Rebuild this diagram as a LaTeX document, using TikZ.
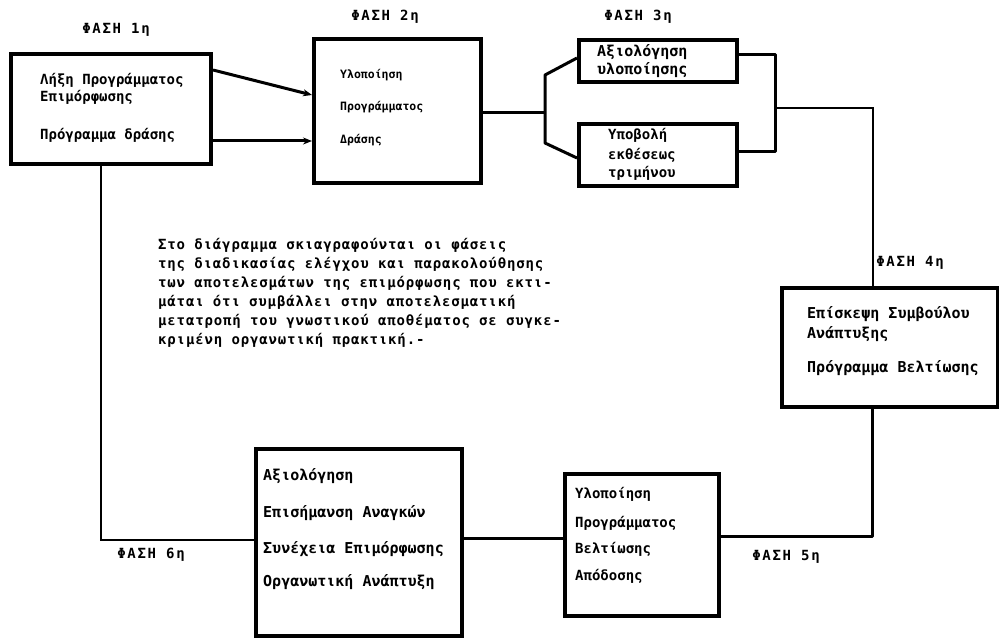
\documentclass[tikz,border=0pt]{standalone}
\usepackage{fontspec}
\setmonofont{DejaVu Sans Mono}
\usetikzlibrary{arrows.meta}
\tikzset{
  x=1pt, y=-1pt,
  box/.style={draw, line width=4pt, rectangle, anchor=north west, inner sep=0pt},
  conn/.style={line width=3pt, line join=round},
  thin conn/.style={line width=2pt},
  arr/.style={conn, -{Stealth[length=9pt,width=7pt]}},
  txt/.style={anchor=base west, inner sep=0pt, font=\ttfamily\bfseries\fontsize{14}{16}\selectfont},
  small txt/.style={txt, font=\ttfamily\bfseries\fontsize{11.5}{14}\selectfont},
  big txt/.style={txt, font=\ttfamily\bfseries\fontsize{15}{17}\selectfont},
  phase/.style={anchor=center, inner sep=0pt, font=\ttfamily\bfseries\fontsize{14}{16}\selectfont\addfontfeature{LetterSpace=12}},
  para/.style={anchor=north west, inner sep=0pt, align=left, font=\ttfamily\bfseries\fontsize{14}{19}\selectfont\addfontfeature{LetterSpace=6}}
}
\begin{document}
\begin{tikzpicture}
\useasboundingbox (0,0) rectangle (999,639);

% boxes
\node[box, minimum width=200pt, minimum height=110pt] (b1) at (9,52) {};
\node[box, minimum width=167pt, minimum height=144pt] (b2) at (312,37) {};
\node[box, minimum width=158pt, minimum height=42pt] (b3a) at (577,38) {};
\node[box, minimum width=158pt, minimum height=62pt] (b3b) at (577,122) {};
\node[box, minimum width=216pt, minimum height=119pt] (b4) at (780,286) {};
\node[box, minimum width=154pt, minimum height=142pt] (b5) at (563,472) {};
\node[box, minimum width=206pt, minimum height=187pt] (b6) at (254,447) {};

% phase labels
\node[phase] (p1) at (116,30) {ΦΑΣΗ 1η};
\node[phase] (p2) at (385,17) {ΦΑΣΗ 2η};
\node[phase] (p3) at (638,17) {ΦΑΣΗ 3η};
\node[phase] (p4) at (910,263) {ΦΑΣΗ 4η};
\node[phase] (p5) at (786,557) {ΦΑΣΗ 5η};
\node[phase] (p6) at (151,555) {ΦΑΣΗ 6η};

% box texts
\node[txt] (t1a) at (40,85) {Λήξη Προγράμματος};
\node[txt] (t1b) at (40,102) {Επιμόρφωσης};
\node[txt] (t1c) at (40,140) {Πρόγραμμα δράσης};

\node[small txt] (t2a) at (340,79) {Υλοποίηση};
\node[small txt] (t2b) at (340,111) {Προγράμματος};
\node[small txt] (t2c) at (340,144) {Δράσης};

\node[big txt] (t3a) at (597,57) {Αξιολόγηση};
\node[big txt] (t3b) at (597,75) {υλοποίησης};

\node[txt] (t3c) at (608,140) {Υποβολή};
\node[txt] (t3d) at (608,160) {εκθέσεως};
\node[txt] (t3e) at (608,178) {τριμήνου};

\node[big txt] (t4a) at (807,318) {Επίσκεψη Συμβούλου};
\node[big txt] (t4b) at (807,338) {Ανάπτυξης};
\node[big txt] (t4c) at (807,372) {Πρόγραμμα Βελτίωσης};

\node[txt] (t5a) at (575,498) {Υλοποίηση};
\node[txt] (t5b) at (575,527) {Προγράμματος};
\node[txt] (t5c) at (575,553) {Βελτίωσης};
\node[txt] (t5d) at (575,580) {Απόδοσης};

\node[big txt] (t6a) at (263,480) {Αξιολόγηση};
\node[big txt] (t6b) at (263,517) {Επισήμανση Αναγκών};
\node[big txt] (t6c) at (263,553) {Συνέχεια Επιμόρφωσης};
\node[big txt] (t6d) at (263,586) {Οργανωτική Ανάπτυξη};

% paragraph
\node[para] (note) at (158,238) {Στο διάγραμμα σκιαγραφούνται οι φάσεις\\
της διαδικασίας ελέγχου και παρακολούθησης\\
των αποτελεσμάτων της επιμόρφωσης που εκτι-\\
μάται ότι συμβάλλει στην αποτελεσματική\\
μετατροπή του γνωστικού αποθέματος σε συγκε-\\
κριμένη οργανωτική πρακτική.-};

% connectors phase 1 -> 2
\coordinate (s1) at ([yshift=-18pt]b1.north east);
\coordinate (e1) at ([yshift=-58pt]b2.north west);
\coordinate (s2) at ([yshift=25pt]b1.south east);
\draw[arr] (s1) -- (e1);
\draw[arr] (s2) -- (b2.west |- s2);

% phase 2 -> 3 fork
\coordinate (fork) at (545,113);
\coordinate (forkTop) at (545,75);
\coordinate (forkBot) at (545,143);
\draw[conn] (b2.east |- fork) -- (fork);
\draw[conn] ([yshift=-20pt]b3a.north west) -- (forkTop) -- (forkBot) -- ([yshift=-36pt]b3b.north west);

% phase 3 join -> 4
\coordinate (joinTop) at (775,55);
\coordinate (joinBot) at (775,152);
\coordinate (joinMid) at (775,108);
\coordinate (turn4) at (873,108);
\draw[conn] (b3a.east |- joinTop) -- (joinTop) -- (joinBot) -- (b3b.east |- joinBot);
\draw[thin conn] (joinMid) -- (turn4) -- (turn4 |- b4.north);

% phase 4 -> 5
\coordinate (turn5) at (872,536);
\draw[conn] (b4.south -| turn5) -- (turn5) -- (b5.east |- turn5);

% phase 5 -> 6
\coordinate (c56) at (563,538);
\draw[conn] (b5.west |- c56) -- (b6.east |- c56);

% phase 6 -> 1
\coordinate (turn6) at (101,540);
\draw[thin conn] (b6.west |- turn6) -- (turn6) -- (turn6 |- b1.south);
\end{tikzpicture}
\end{document}
